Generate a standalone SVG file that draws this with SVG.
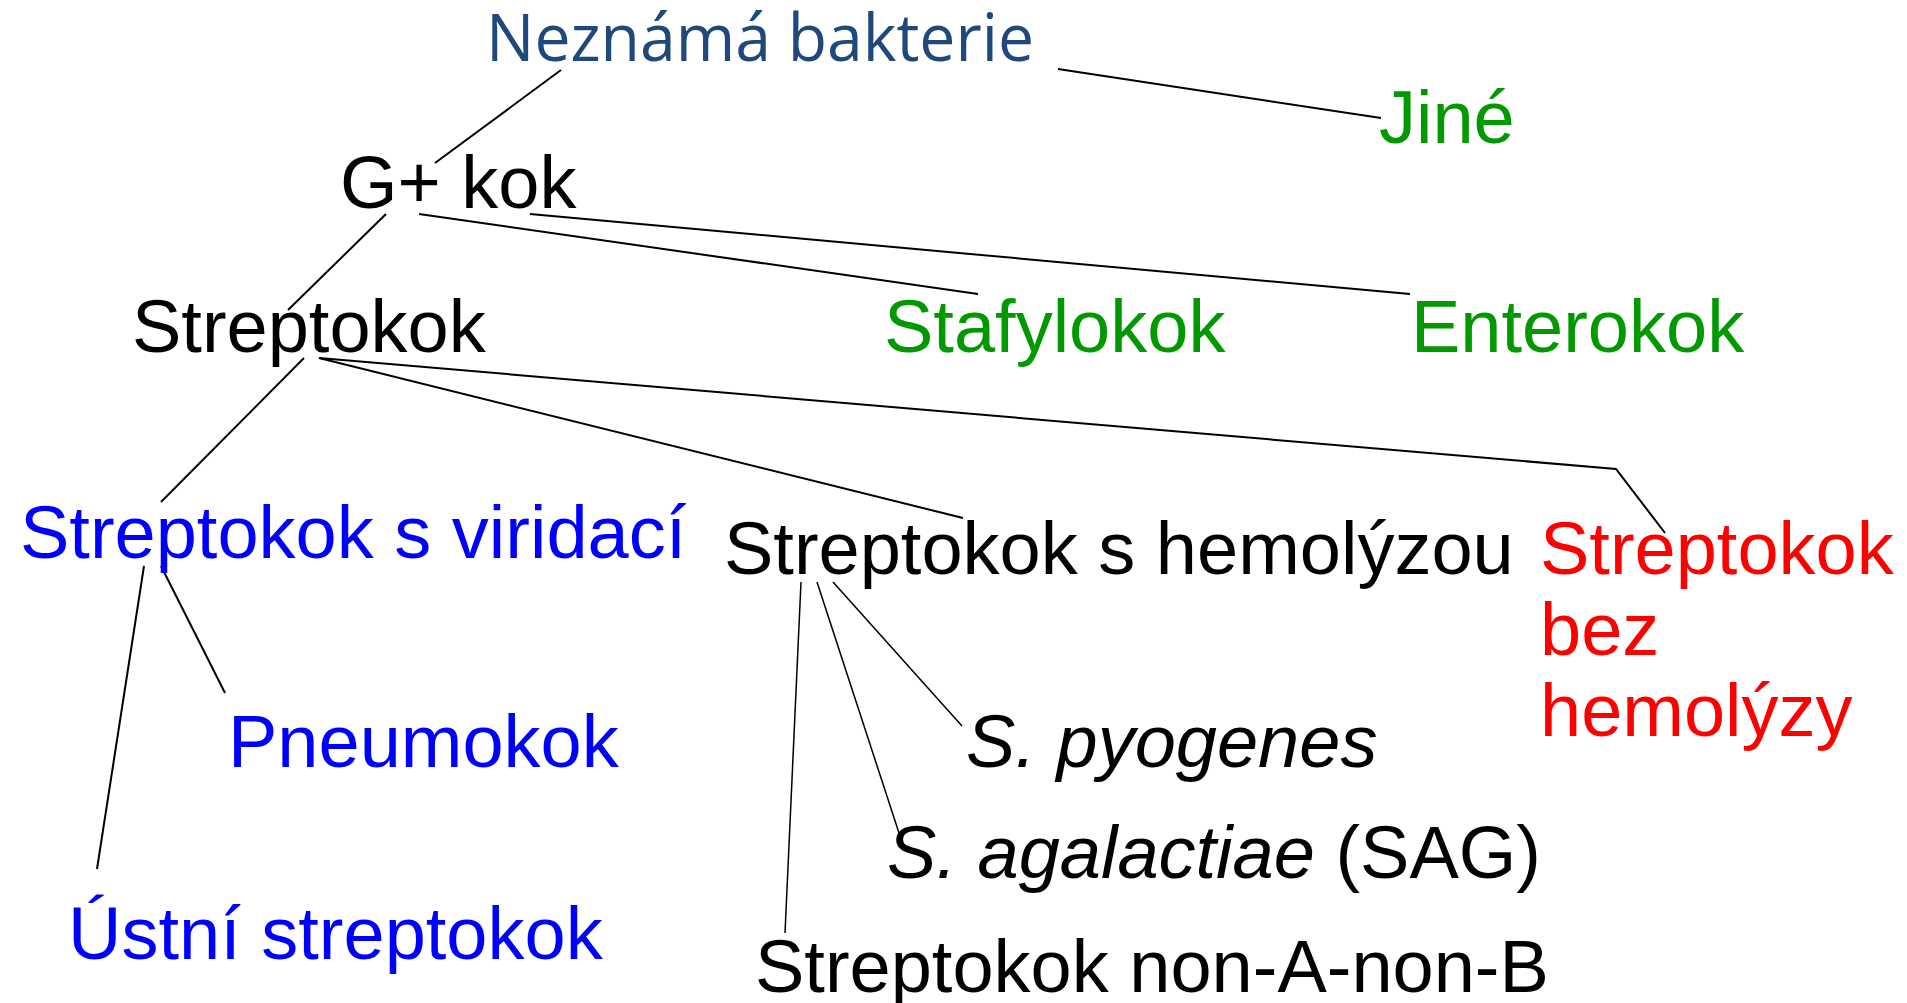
<svg xmlns="http://www.w3.org/2000/svg" width="1907" height="1003" viewBox="0 0 1907 1003">
<style>
text{font-family:"Liberation Sans",Arial,sans-serif;font-size:74px}
.blk{fill:#000}
.grn{fill:#009900}
.blu{fill:#0000FF}
.red{fill:#FF0000}
.top{fill:#1F497D;font-family:"Open Sans","Liberation Sans",sans-serif;font-size:66px}
.it{font-style:italic}
.c line,.c polyline{stroke:#000;stroke-width:2;fill:none}
.c .thin{stroke-width:1.5}
</style>
<rect width="1907" height="1003" fill="#fff"/>
<g class="c" id="connectors">
<line x1="561" y1="70" x2="435" y2="163"/>
<line x1="1058" y1="69" x2="1381" y2="118"/>
<line x1="386" y1="214" x2="288" y2="310"/>
<line x1="419" y1="214" x2="978" y2="294"/>
<line x1="530" y1="214" x2="1410" y2="294"/>
<line x1="304" y1="358" x2="161" y2="502"/>
<line x1="319" y1="358" x2="963" y2="518"/>
<polyline points="319,358 1616,469 1665,533"/>
<line x1="144" y1="566" x2="97" y2="869"/>
<line x1="161" y1="566" x2="225" y2="693"/>
<line class="thin" x1="801" y1="582" x2="785" y2="933"/>
<line class="thin" x1="817" y1="582" x2="899" y2="833"/>
<line class="thin" x1="833" y1="582" x2="962" y2="726"/>
</g>
<g id="n-neznama"><text class="top" x="486" y="61" textLength="548" lengthAdjust="spacingAndGlyphs">Neznámá bakterie</text></g>
<g id="n-jine"><text class="grn" x="1379" y="143">Jiné</text></g>
<g id="n-gkok"><text class="blk" x="340" y="208">G+ kok</text></g>
<g id="n-streptokok"><text class="blk" x="132" y="352">Streptokok</text></g>
<g id="n-stafylokok"><text class="grn" x="884" y="352">Stafylokok</text></g>
<g id="n-enterokok"><text class="grn" x="1411" y="352">Enterokok</text></g>
<g id="n-viridaci"><text class="blu" x="20" y="558">Streptokok s viridací</text></g>
<g id="n-hemolyzou"><text class="blk" x="724" y="574">Streptokok s hemolýzou</text></g>
<g id="n-bez"><text class="red" x="1540" y="574">Streptokok</text><text class="red" x="1540" y="655">bez</text><text class="red" x="1540" y="736">hemolýzy</text></g>
<g id="n-pneumokok"><text class="blu" x="228" y="767">Pneumokok</text></g>
<g id="n-pyogenes"><text class="blk it" x="966" y="767">S. pyogenes</text></g>
<g id="n-agalactiae"><text class="blk" x="887" y="878"><tspan class="it">S. agalactiae</tspan> (SAG)</text></g>
<g id="n-ustni"><text class="blu" x="68" y="959">Ústní streptokok</text></g>
<g id="n-nonab"><text class="blk" x="755" y="992">Streptokok non-A-non-B</text></g>
</svg>
